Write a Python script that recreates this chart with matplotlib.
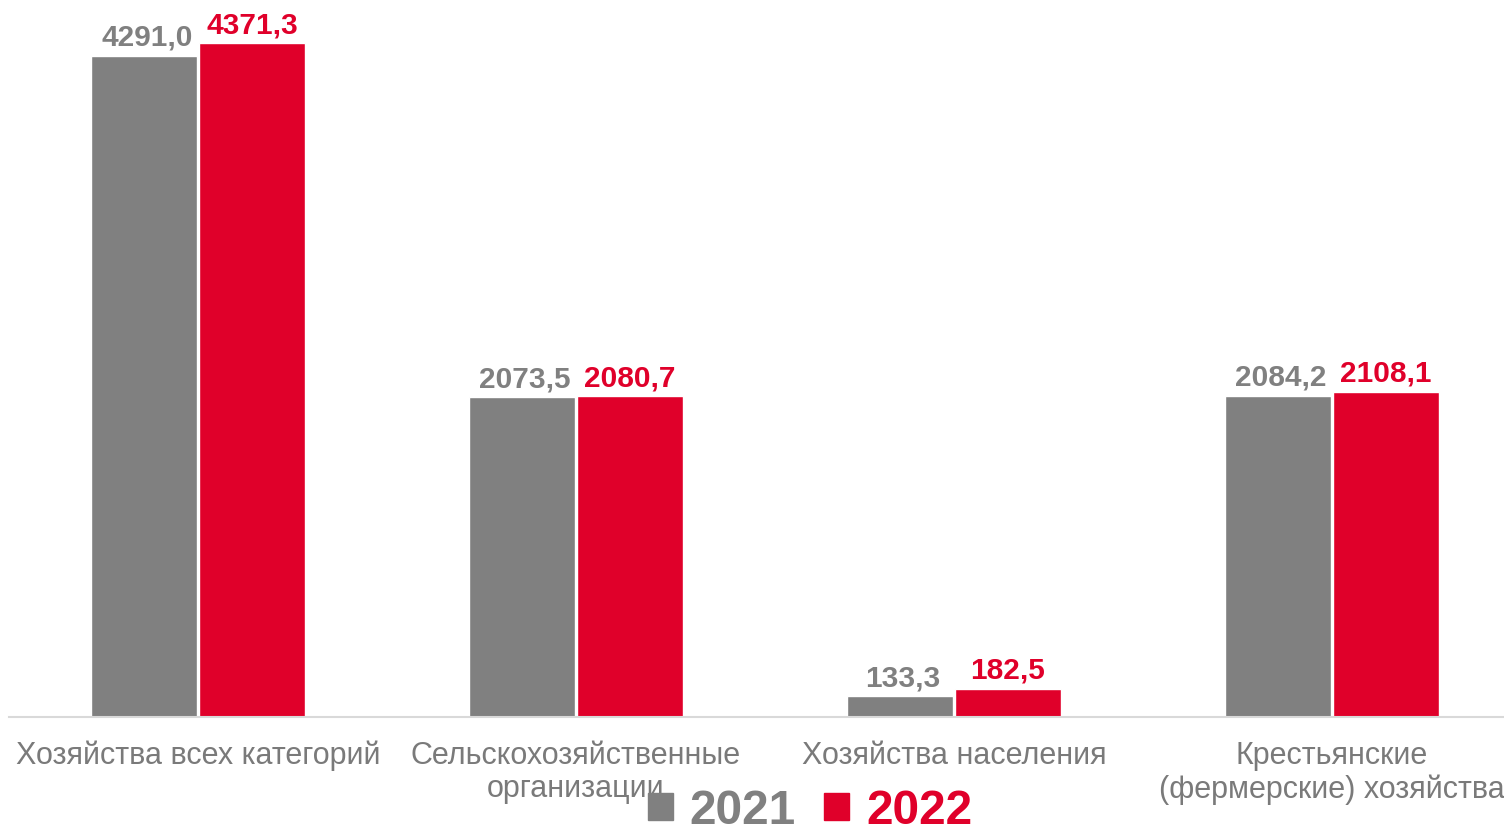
import numpy as np
import matplotlib.pyplot as plt
from matplotlib.patches import Rectangle

# Data
categories = ['Хозяйства всех категорий', 'Сельскохозяйственные\nорганизации',
              'Хозяйства населения', 'Крестьянские\n(фермерские) хозяйства']
years = ['2021', '2022']
values_2021 = [4291.0, 2073.5, 133.3, 2084.2]
values_2022 = [4371.3, 2080.7, 182.5, 2108.1]

gray = '#808080'
red = '#E0002A'
label_gray = '#7a7a7a'

plt.rcParams['font.family'] = ['Liberation Sans', 'DejaVu Sans']

fig = plt.figure(figsize=(15.04, 8.32), dpi=100)
# axes spans slightly past right edge, like the original which is cut off
ax = fig.add_axes([9 / 1504, 115 / 832, 1512 / 1504, 709 / 832])

x = np.arange(len(categories))
w = 0.28
off = 0.143
b1 = ax.bar(x - off, values_2021, w, color=gray, edgecolor='white', linewidth=1)
b2 = ax.bar(x + off, values_2022, w, color=red, edgecolor='white', linewidth=1)

def fmt(v):
    return f'{v:.1f}'.replace('.', ',')

for rect, v in zip(b1, values_2021):
    ax.annotate(fmt(v), (rect.get_x() + rect.get_width() / 2, v),
                xytext=(2, 3), textcoords='offset points', ha='center', va='bottom',
                fontsize=21.5, fontweight='bold', color=gray)
for rect, v in zip(b2, values_2022):
    ax.annotate(fmt(v), (rect.get_x() + rect.get_width() / 2, v),
                xytext=(0, 3), textcoords='offset points', ha='center', va='bottom',
                fontsize=21.5, fontweight='bold', color=red)

ax.set_xlim(-0.5, 3.5)
ax.set_ylim(0, 4600)
ax.set_yticks([])
ax.set_xticks(x)
ax.set_xticklabels(categories, fontsize=22, color=label_gray, linespacing=1.15)
ax.tick_params(axis='x', length=0, pad=17)
for s in ['top', 'right', 'left']:
    ax.spines[s].set_visible(False)
ax.spines['bottom'].set_color('#d9d9d9')
ax.spines['bottom'].set_linewidth(1.5)

# legend
handles = [Rectangle((0, 0), 1, 1, color=gray), Rectangle((0, 0), 1, 1, color=red)]
leg = fig.legend(handles, years, loc='center', bbox_to_anchor=(810 / 1504, 1 - 811 / 832),
                 ncol=2, frameon=False, prop={'size': 34.5, 'weight': 'bold'},
                 handlelength=0.52, handleheight=0.52, handletextpad=0.35,
                 columnspacing=0.6, borderpad=0)
for t, c in zip(leg.get_texts(), [gray, red]):
    t.set_color(c)

fig.savefig('out.png', dpi=100)
